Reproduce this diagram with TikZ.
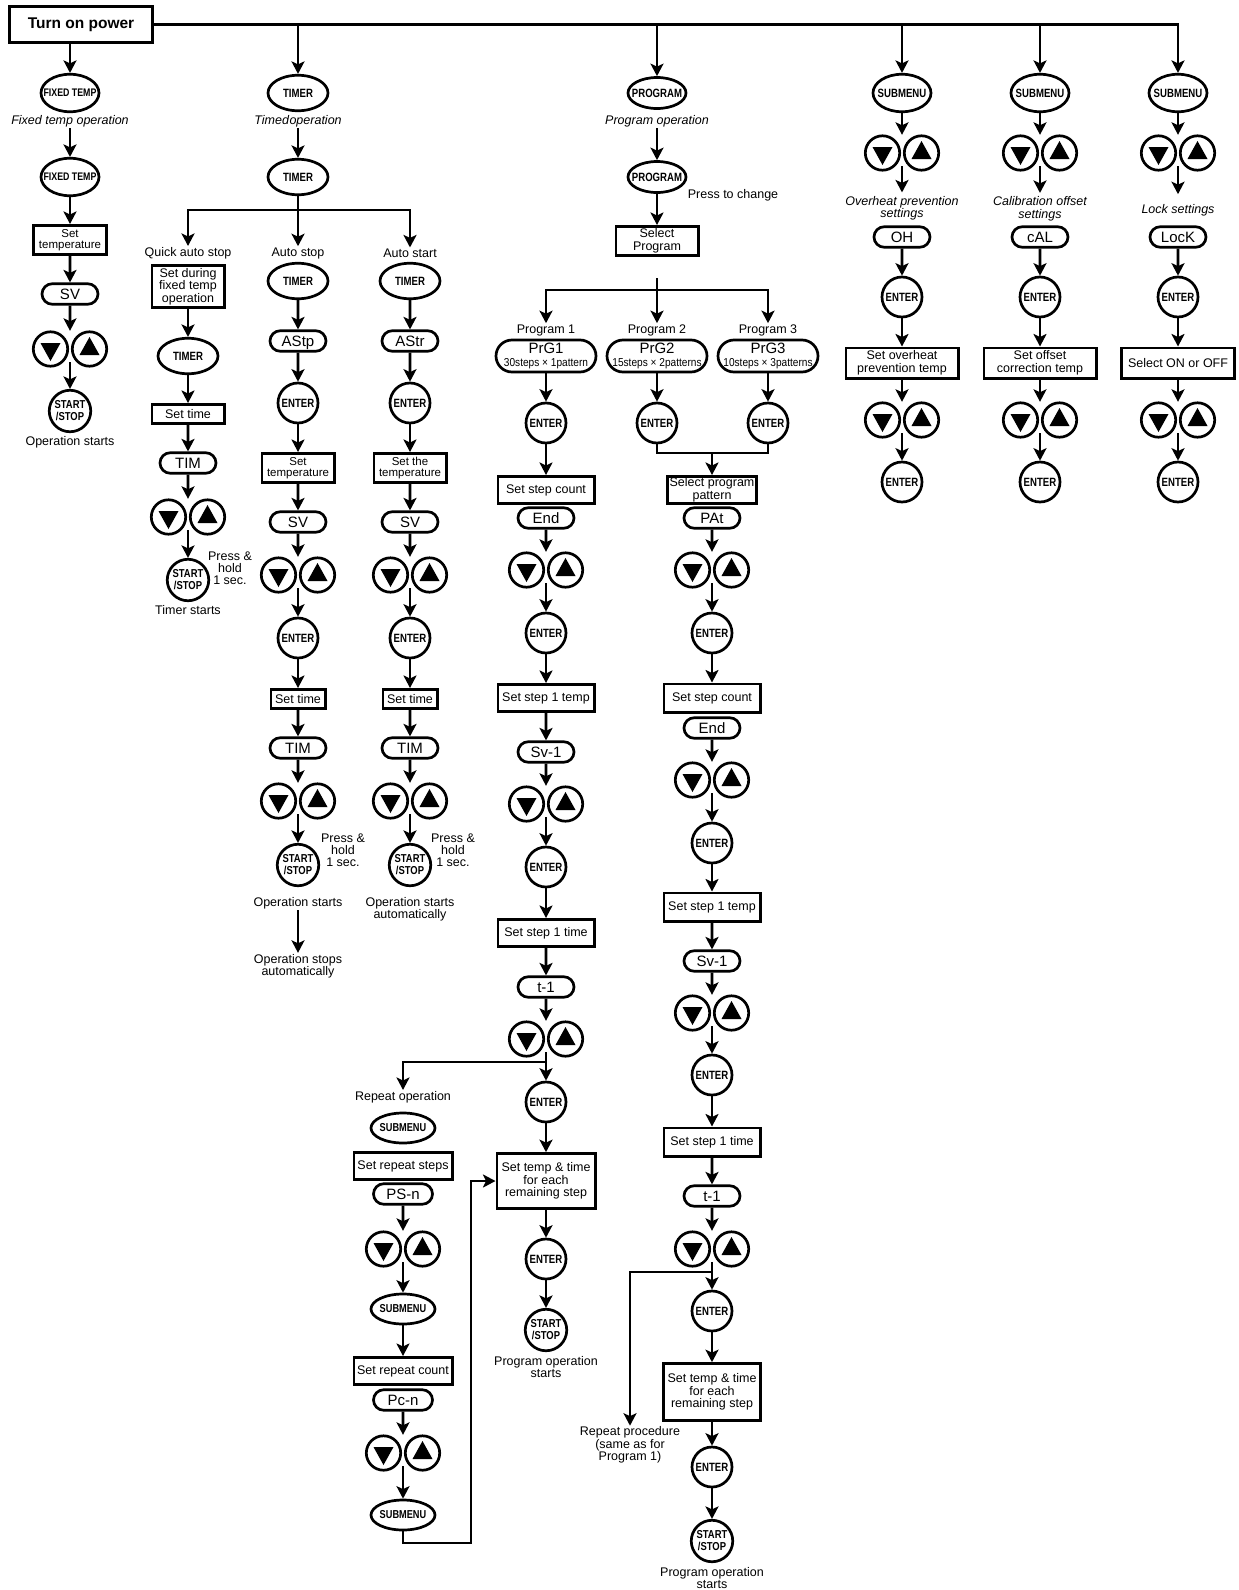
\documentclass[tikz,border=0pt]{standalone}
\usepackage{graphicx}
\usepackage{fontspec}
\setmainfont{Liberation Sans}
\usetikzlibrary{shapes.geometric,shapes.misc,arrows.meta}
\newcommand\btn[2][12]{\makebox[0pt]{\scalebox{0.8}[1]{\fontsize{#1}{#1}\selectfont\bfseries #2}}}
\newcommand\btnss{\makebox[0pt]{\scalebox{0.82}[1]{\parbox[c]{50pt}{\centering\fontsize{11.5}{12}\selectfont\bfseries START\\/STOP}}}}
\newcommand\prg[2]{\makebox[0pt]{\parbox[c]{100pt}{\centering\fontsize{15}{15}\selectfont #1\\[1pt]\fontsize{11.5}{11.5}\selectfont\scalebox{0.88}[1]{#2}}}}
\newcommand\updown[3]{%
  \node[pairn] (#1) at (#2,#3) {};
  \node[btnc] (#1l) at (#2-19.5,#3) {};
  \node[btnc] (#1r) at (#2+19.5,#3) {};
  \fill (#2-29.5,#3-6) -- (#2-9.5,#3-6) -- (#2-19.5,#3+12) -- cycle;
  \fill (#2+9.5,#3+6) -- (#2+29.5,#3+6) -- (#2+19.5,#3-12) -- cycle;
}
\begin{document}
\begin{tikzpicture}[x=1pt,y=-1pt,
  ln/.style={line width=2.7pt},
  arr/.style={line width=2.7pt,-{Stealth[length=12.5pt,width=13pt,inset=3pt]}},
  box/.style={draw,line width=2.7pt,rectangle,align=center,inner sep=1pt,font=\fontsize{12.5}{12.5}\selectfont},
  disp/.style={draw,line width=2.7pt,rounded rectangle,minimum width=56pt,minimum height=20.5pt,inner sep=0pt,text height=10.7pt,text depth=0pt,font=\fontsize{15}{15}\selectfont},
  ell/.style={draw,line width=2.7pt,ellipse,minimum width=58pt,minimum height=37.5pt,inner sep=0pt},
  ellt/.style={ell,minimum width=60pt,minimum height=35.5pt},
  ellp/.style={ell,minimum width=58pt,minimum height=31pt},
  ells/.style={ell,minimum width=64pt,minimum height=30pt},
  circ/.style={draw,line width=2.7pt,circle,minimum size=40pt,inner sep=0pt},
  ssc/.style={draw,line width=2.7pt,circle,minimum size=41.5pt,inner sep=0pt},
  btnc/.style={draw,line width=2.7pt,circle,minimum size=34.4pt,inner sep=0pt},
  pairn/.style={rectangle,minimum width=76pt,minimum height=36pt,inner sep=0pt},
  lbl/.style={align=center,inner sep=1pt,font=\fontsize{12.5}{12.3}\selectfont},
  ilbl/.style={align=center,inner sep=1pt,font=\fontsize{12.5}{12.5}\selectfont\itshape}
]
\fill[white] (0,0) rectangle (1239,1590);
\useasboundingbox (0,0) rectangle (1239,1590);

%% ---------- top ----------
\node[box,font=\fontsize{15.5}{15.5}\selectfont\bfseries,minimum width=143.3pt,minimum height=36.3pt] (top) at (81,24.5) {Turn on power};

%% ---------- column 1: fixed temp ----------
\node[ell] (ft1) at (70,93) {\btn[11]{FIXED TEMP}};
\node[ilbl] (ftl) at (70,121) {Fixed temp operation};
\node[ell] (ft2) at (70,177) {\btn[11]{FIXED TEMP}};
\node[box,font=\fontsize{11.5}{11.5}\selectfont,minimum width=73.3pt,minimum height=29.3pt] (c1b) at (70,240) {Set\\temperature};
\node[disp] (c1sv) at (70,294) {SV};
\updown{c1p}{70}{349}
\node[ssc] (c1ss) at (70,411) {\btnss};
\node[lbl] (c1l) at (70,442) {Operation starts};
\draw[arr] (top.south -| ft1) -- (ft1);
\draw[arr] (ftl) -- (ft2);
\draw[arr] (ft2) -- (c1b);
\draw[arr] (c1b) -- (c1sv);
\draw[arr] (c1sv) -- (c1p.north);
\draw[arr] ([yshift=-13pt]c1p.center) -- (c1ss);

%% ---------- timer ----------
\node[ellt] (tm1) at (298,93) {\btn{TIMER}};
\node[ilbl] (tml) at (298,121) {Timed\hspace{0.6pt}operation};
\node[ellt] (tm2) at (298,177) {\btn{TIMER}};
\coordinate (tj) at (298,210);
\node[lbl] (ql) at (188,253) {Quick auto stop};
\node[lbl] (asl) at (298,253) {Auto stop};
\node[lbl] (atl) at (410,253) {Auto start};
\draw[arr] (tml) -- (tm2);
\draw[arr] (tm2) -- (asl);
\draw[arr] (tj) -| (ql);
\draw[arr] (tj) -| (atl);

% quick auto stop
\node[box,minimum width=72.3pt,minimum height=42.3pt] (qb) at (188,286.5) {Set during\\fixed temp\\operation};
\node[ellt] (qtm) at (188,356) {\btn{TIMER}};
\node[box,minimum width=72.3pt,minimum height=19.3pt] (qst) at (188,414) {Set time};
\node[disp] (qtim) at (188,463) {TIM};
\updown{qp}{188}{517}
\node[ssc] (qss) at (188,580) {\btnss};
\node[lbl,font=\fontsize{12.5}{12}\selectfont] (qph) at (230,568) {Press \&\\hold\\1 sec.};
\node[lbl] (qts) at (188,610) {Timer starts};
\draw[arr] (qb) -- (qtm);
\draw[arr] (qtm) -- (qst);
\draw[arr] (qst) -- (qtim);
\draw[arr] (qtim) -- (qp.north);
\draw[arr] ([yshift=-13pt]qp.center) -- (qss);

% auto stop
\node[ellt] (atm) at (298,281) {\btn{TIMER}};
\node[disp] (astp) at (298,341) {AStp};
\node[circ] (ae1) at (298,403) {\btn{ENTER}};
\node[box,font=\fontsize{11.5}{11.5}\selectfont,minimum width=72.3pt,minimum height=29.3pt] (ab1) at (298,468) {Set\\temperature};
\node[disp] (asv) at (298,522) {SV};
\updown{ap1}{298}{575}
\node[circ] (ae2) at (298,638) {\btn{ENTER}};
\node[box,minimum width=54.3pt,minimum height=19.3pt] (ab2) at (298,699) {Set time};
\node[disp] (atim) at (298,748) {TIM};
\updown{ap2}{298}{801}
\node[ssc] (ass) at (298,865) {\btnss};
\node[lbl,font=\fontsize{12.5}{12}\selectfont] (aph) at (343,850) {Press \&\\hold\\1 sec.};
\node[lbl] (aos) at (298,903) {Operation starts};
\node[lbl] (aost) at (298,966) {Operation stops\\automatically};
\draw[arr] (atm) -- (astp);
\draw[arr] (astp) -- (ae1);
\draw[arr] (ae1) -- (ab1);
\draw[arr] (ab1) -- (asv);
\draw[arr] (asv) -- (ap1.north);
\draw[arr] ([yshift=-13pt]ap1.center) -- (ae2);
\draw[arr] (ae2) -- (ab2);
\draw[arr] (ab2) -- (atim);
\draw[arr] (atim) -- (ap2.north);
\draw[arr] ([yshift=-13pt]ap2.center) -- (ass);
\draw[arr] (aos) -- (aost);

% auto start
\node[ellt] (btm) at (410,281) {\btn{TIMER}};
\node[disp] (bstr) at (410,341) {AStr};
\node[circ] (be1) at (410,403) {\btn{ENTER}};
\node[box,font=\fontsize{11.5}{11.5}\selectfont,minimum width=72.3pt,minimum height=29.3pt] (bb1) at (410,468) {Set the\\temperature};
\node[disp] (bsv) at (410,522) {SV};
\updown{bp1}{410}{575}
\node[circ] (be2) at (410,638) {\btn{ENTER}};
\node[box,minimum width=54.3pt,minimum height=19.3pt] (bb2) at (410,699) {Set time};
\node[disp] (btim) at (410,748) {TIM};
\updown{bp2}{410}{801}
\node[ssc] (bss) at (410,865) {\btnss};
\node[lbl,font=\fontsize{12.5}{12}\selectfont] (bph) at (453,850) {Press \&\\hold\\1 sec.};
\node[lbl] (bos) at (410,909) {Operation starts\\automatically};
\draw[arr] (btm) -- (bstr);
\draw[arr] (bstr) -- (be1);
\draw[arr] (be1) -- (bb1);
\draw[arr] (bb1) -- (bsv);
\draw[arr] (bsv) -- (bp1.north);
\draw[arr] ([yshift=-13pt]bp1.center) -- (be2);
\draw[arr] (be2) -- (bb2);
\draw[arr] (bb2) -- (btim);
\draw[arr] (btim) -- (bp2.north);
\draw[arr] ([yshift=-13pt]bp2.center) -- (bss);

%% ---------- program ----------
\node[ellp] (pg1) at (657,93) {\btn{PROGRAM}};
\node[ilbl] (pgl) at (657,121) {Program operation};
\node[ellp] (pg2) at (657,177) {\btn{PROGRAM}};
\node[lbl] (ptc) at (733,195) {Press to change};
\node[box,minimum width=82.3pt,minimum height=29.3pt] (psel) at (657,241) {Select\\Program};
\coordinate (pjs) at (657,278);
\coordinate (pj) at (657,290);
\node[lbl] (pl1) at (546,330) {Program 1};
\node[lbl] (pl2) at (657,330) {Program 2};
\node[lbl] (pl3) at (768,330) {Program 3};
\node[disp,minimum width=100pt,minimum height=32pt,text height=,text depth=] (prg1) at (546,356) {\prg{PrG1}{30steps × 1pattern}};
\node[disp,minimum width=100pt,minimum height=32pt,text height=,text depth=] (prg2) at (657,356) {\prg{PrG2}{15steps × 2patterns}};
\node[disp,minimum width=100pt,minimum height=32pt,text height=,text depth=] (prg3) at (768,356) {\prg{PrG3}{10steps × 3patterns}};
\node[circ] (pe1) at (546,423) {\btn{ENTER}};
\node[circ] (pe2) at (657,423) {\btn{ENTER}};
\node[circ] (pe3) at (768,423) {\btn{ENTER}};
\draw[arr] (pgl) -- (pg2);
\draw[arr] (pg2) -- (psel);
\draw[ln] (pjs) -- (pj);
\draw[arr] (pj) -- (pl2);
\draw[arr] (pj) -| (pl1);
\draw[arr] (pj) -| (pl3);
\draw[arr] (prg1) -- (pe1);
\draw[arr] (prg2) -- (pe2);
\draw[arr] (prg3) -- (pe3);

% program 1 column
\node[box,minimum width=96.3pt,minimum height=27.3pt] (p1b1) at (546,490) {Set step count};
\node[disp] (p1end) at (546,518) {End};
\updown{p1a}{546}{570}
\node[circ] (p1e1) at (546,633) {\btn{ENTER}};
\node[box,minimum width=96.3pt,minimum height=27.3pt] (p1b2) at (546,698) {Set step 1 temp};
\node[disp] (p1sv) at (546,752) {Sv-1};
\updown{p1b}{546}{804}
\node[circ] (p1e2) at (546,867) {\btn{ENTER}};
\node[box,minimum width=96.3pt,minimum height=27.3pt] (p1b3) at (546,933) {Set step 1 time};
\node[disp] (p1t) at (546,987) {t-1};
\updown{p1c}{546}{1039}
\coordinate (p1j) at (546,1062);
\node[circ] (p1e3) at (546,1102) {\btn{ENTER}};
\node[box,minimum width=98.3pt,minimum height=55pt] (p1b4) at (546,1181) {Set temp \& time\\for each\\remaining step};
\node[circ] (p1e4) at (546,1259) {\btn{ENTER}};
\node[ssc] (p1ss) at (546,1330) {\btnss};
\node[lbl] (p1l) at (546,1367) {Program operation\\starts};
\draw[arr] (pe1) -- (p1b1);
\draw[arr] (p1end) -- (p1a.north);
\draw[arr] ([yshift=-13pt]p1a.center) -- (p1e1);
\draw[arr] (p1e1) -- (p1b2);
\draw[arr] (p1b2) -- (p1sv);
\draw[arr] (p1sv) -- (p1b.north);
\draw[arr] ([yshift=-13pt]p1b.center) -- (p1e2);
\draw[arr] (p1e2) -- (p1b3);
\draw[arr] (p1b3) -- (p1t);
\draw[arr] (p1t) -- (p1c.north);
\draw[arr] ([yshift=-13pt]p1c.center) -- (p1e3);
\draw[arr] (p1e3) -- (p1b4);
\draw[arr] (p1b4) -- (p1e4);
\draw[arr] (p1e4) -- (p1ss);

% repeat operation
\node[lbl] (rl) at (403,1097) {Repeat operation};
\node[ells] (rs1) at (403,1128) {\btn[11.5]{SUBMENU}};
\node[box,minimum width=98.3pt,minimum height=27.3pt] (rb1) at (403,1166) {Set repeat steps};
\node[disp,minimum width=59pt] (rps) at (403,1194) {PS-n};
\updown{rpa}{403}{1249}
\node[ells] (rs2) at (403,1309) {\btn[11.5]{SUBMENU}};
\node[box,minimum width=98.3pt,minimum height=27.3pt] (rb2) at (403,1371) {Set repeat count};
\node[disp,minimum width=59pt] (rpc) at (403,1400) {Pc-n};
\updown{rpb}{403}{1453}
\node[ells] (rs3) at (403,1515) {\btn[11.5]{SUBMENU}};
\coordinate (lp) at (471,1543);
\draw[arr] (p1j) -| (rl);
\draw[arr] (rps) -- (rpa.north);
\draw[arr] ([yshift=-13pt]rpa.center) -- (rs2);
\draw[arr] (rs2) -- (rb2);
\draw[arr] (rpc) -- (rpb.north);
\draw[arr] ([yshift=-13pt]rpb.center) -- (rs3);
\draw[arr] (rs3.south) |- (lp) |- (p1b4.west);

% program 2/3 column
\coordinate (mj) at (712,453);
\node[box,minimum width=89.3pt,minimum height=27.3pt,font=\fontsize{12.5}{13}\selectfont] (ppb) at (712,490) {Select program\\pattern};
\node[disp] (ppat) at (712,518) {PAt};
\updown{p2a}{712}{570}
\node[circ] (p2e1) at (712,633) {\btn{ENTER}};
\node[box,minimum width=96.3pt,minimum height=28.3pt] (p2b1) at (712,698) {Set step count};
\node[disp] (p2end) at (712,728) {End};
\updown{p2b}{712}{780}
\node[circ] (p2e2) at (712,843) {\btn{ENTER}};
\node[box,minimum width=96.3pt,minimum height=28.3pt] (p2b2) at (712,907) {Set step 1 temp};
\node[disp] (p2sv) at (712,961) {Sv-1};
\updown{p2c}{712}{1013}
\node[circ] (p2e3) at (712,1075) {\btn{ENTER}};
\node[box,minimum width=96.3pt,minimum height=28.3pt] (p2b3) at (712,1142) {Set step 1 time};
\node[disp] (p2t) at (712,1196) {t-1};
\updown{p2d}{712}{1249}
\coordinate (p2j) at (712,1272);
\node[circ] (p2e4) at (712,1311) {\btn{ENTER}};
\node[box,minimum width=97.3pt,minimum height=57pt] (p2b4) at (712,1392) {Set temp \& time\\for each\\remaining step};
\node[circ] (p2e5) at (712,1467) {\btn{ENTER}};
\node[ssc] (p2ss) at (712,1541) {\btnss};
\node[lbl] (p2l) at (712,1578) {Program operation\\starts};
\node[lbl] (rpl) at (630,1445) {Repeat procedure\\(same as for\\Program 1)};
\draw[ln] (pe2) -- (pe2 |- mj) -- (pe3 |- mj) -- (pe3);
\draw[arr] (mj) -- (ppb);
\draw[arr] (ppat) -- (p2a.north);
\draw[arr] ([yshift=-13pt]p2a.center) -- (p2e1);
\draw[arr] (p2e1) -- (p2b1);
\draw[arr] (p2end) -- (p2b.north);
\draw[arr] ([yshift=-13pt]p2b.center) -- (p2e2);
\draw[arr] (p2e2) -- (p2b2);
\draw[arr] (p2b2) -- (p2sv);
\draw[arr] (p2sv) -- (p2c.north);
\draw[arr] ([yshift=-13pt]p2c.center) -- (p2e3);
\draw[arr] (p2e3) -- (p2b3);
\draw[arr] (p2b3) -- (p2t);
\draw[arr] (p2t) -- (p2d.north);
\draw[arr] ([yshift=-13pt]p2d.center) -- (p2e4);
\draw[arr] (p2j) -| (rpl);
\draw[arr] (p2e4) -- (p2b4);
\draw[arr] (p2b4) -- (p2e5);
\draw[arr] (p2e5) -- (p2ss);

%% ---------- submenu columns ----------
\node[ell] (sa) at (902,93) {\btn{SUBMENU}};
\updown{sap1}{902}{153}
\node[ilbl,outer sep=3pt] (sal) at (902,208.5) {Overheat prevention\\settings};
\node[disp] (sad) at (902,237) {OH};
\node[circ] (sae1) at (902,297) {\btn{ENTER}};
\node[box,minimum width=112.3pt,minimum height=30.3pt] (sab) at (902,363) {Set overheat\\prevention temp};
\updown{sap2}{902}{420}
\node[circ] (sae2) at (902,482) {\btn{ENTER}};

\node[ell] (sb) at (1040,93) {\btn{SUBMENU}};
\updown{sbp1}{1040}{153}
\node[ilbl,outer sep=3pt] (sbl) at (1040,209) {Calibration offset\\settings};
\node[disp] (sbd) at (1040,237) {cAL};
\node[circ] (sbe1) at (1040,297) {\btn{ENTER}};
\node[box,minimum width=112.3pt,minimum height=30.3pt] (sbb) at (1040,363) {Set offset\\correction temp};
\updown{sbp2}{1040}{420}
\node[circ] (sbe2) at (1040,482) {\btn{ENTER}};

\node[ell] (sc) at (1178,93) {\btn{SUBMENU}};
\updown{scp1}{1178}{153}
\node[ilbl,outer sep=9pt] (scl) at (1178,210) {Lock settings};
\node[disp] (scd) at (1178,237) {LocK};
\node[circ] (sce1) at (1178,297) {\btn{ENTER}};
\node[box,minimum width=113.3pt,minimum height=30.3pt] (scb) at (1178,363) {Select ON or OFF};
\updown{scp2}{1178}{420}
\node[circ] (sce2) at (1178,482) {\btn{ENTER}};

\foreach \s in {sa,sb,sc}{
  \draw[arr] (\s) -- (\s p1.north);
  \draw[arr] ([yshift=-13pt]\s p1.center) -- (\s l);
  \draw[arr] (\s d) -- (\s e1);
  \draw[arr] (\s e1) -- (\s b);
  \draw[arr] (\s b) -- (\s p2.north);
  \draw[arr] ([yshift=-13pt]\s p2.center) -- (\s e2);
}

%% ---------- top line ----------
\draw[arr] (top.east) -- (top.east -| sc) -- (sc);
\draw[arr] (top.east -| tm1) -- (tm1);
\draw[arr] (top.east -| pg1) -- (pg1);
\draw[arr] (top.east -| sa) -- (sa);
\draw[arr] (top.east -| sb) -- (sb);
\end{tikzpicture}
\end{document}
